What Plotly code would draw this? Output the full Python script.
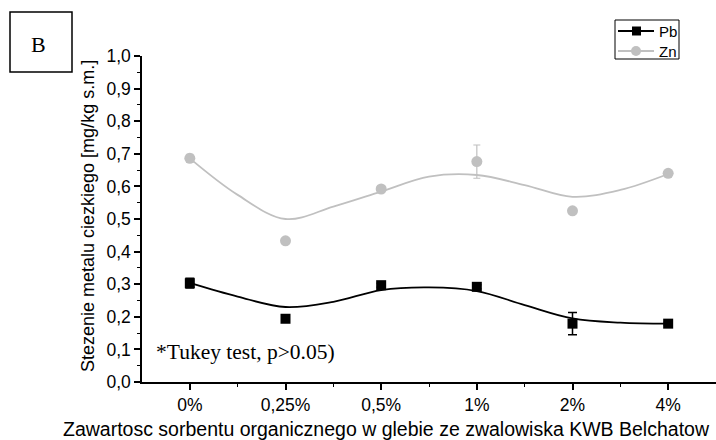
import plotly.graph_objects as go

categories = ["0%", "0,25%", "0,5%", "1%", "2%", "4%"]
x_idx = [0, 1, 2, 3, 4, 5]

pb_values = [0.303, 0.194, 0.297, 0.292, 0.179, 0.179]
pb_errors = [0.015, 0.006, 0.006, 0.006, 0.034, 0.004]
zn_values = [0.686, 0.433, 0.592, 0.676, 0.525, 0.640]
zn_errors = [0.012, 0.004, 0.005, 0.051, 0.004, 0.004]

# fitted curves (at half-category steps)
curve_x = [0, 0.5, 1, 1.5, 2, 2.5, 3, 3.5, 4, 4.5, 5]
pb_curve = [0.304, 0.262, 0.230, 0.246, 0.282, 0.290, 0.279, 0.236, 0.195, 0.182, 0.179]
zn_curve = [0.686, 0.574, 0.500, 0.538, 0.584, 0.630, 0.635, 0.604, 0.568, 0.589, 0.638]

series_names = ["Pb", "Zn"]
PB_COLOR = "#000000"
ZN_COLOR = "#c0c0c0"

# plot-area geometry in pixels (for paper-coordinate helpers)
L, R, T, B = 142, 716, 56, 382
W, H = R - L, B - T


def px(x):
    return (x - L) / W


def py(y):
    return (B - y) / H


SANS = "Liberation Sans, Arial, sans-serif"
SERIF = "Liberation Serif, Times New Roman, serif"

fig = go.Figure()

fig.add_trace(go.Scatter(x=curve_x, y=zn_curve, mode="lines",
                         line=dict(color=ZN_COLOR, width=1.8, shape="spline", smoothing=1.0),
                         showlegend=False, hoverinfo="skip"))
fig.add_trace(go.Scatter(x=curve_x, y=pb_curve, mode="lines",
                         line=dict(color=PB_COLOR, width=1.8, shape="spline", smoothing=1.0),
                         showlegend=False, hoverinfo="skip"))

fig.add_trace(go.Scatter(x=x_idx, y=zn_values, mode="markers", name=series_names[1],
                         marker=dict(symbol="circle", size=11, color=ZN_COLOR),
                         error_y=dict(type="data", array=zn_errors, color=ZN_COLOR, thickness=1.2, width=3.5),
                         showlegend=False))
fig.add_trace(go.Scatter(x=x_idx, y=pb_values, mode="markers", name=series_names[0],
                         marker=dict(symbol="square", size=10, color=PB_COLOR),
                         error_y=dict(type="data", array=pb_errors, color=PB_COLOR, thickness=1.5, width=4.5),
                         showlegend=False))

fig.update_layout(
    width=716, height=440,
    margin=dict(l=L, r=716 - R, t=T, b=440 - B),
    paper_bgcolor="white", plot_bgcolor="white",
    font=dict(family=SANS, size=17, color="black"),
    showlegend=False,
    xaxis=dict(range=[-0.5, 5.5], tickmode="array", tickvals=x_idx, ticktext=categories,
               showgrid=False, zeroline=False, showline=True, linecolor="black", linewidth=1.5,
               ticks="outside", ticklen=6, tickwidth=1.5, tickcolor="black",
               tickfont=dict(size=17.5, family=SANS, color="black"),
               minor=dict(tickvals=[0.5, 1.5, 2.5, 3.5, 4.5], ticks="outside", ticklen=3,
                          tickwidth=1.2, tickcolor="black", showgrid=False)),
    yaxis=dict(range=[0, 1.0], tickmode="linear", tick0=0, dtick=0.1, tickformat=".1f",
               showgrid=False, zeroline=False, showline=True, linecolor="black", linewidth=1.5,
               ticks="outside", ticklen=6, tickwidth=1.5, tickcolor="black",
               tickfont=dict(size=17.5, family=SANS, color="black"),
               minor=dict(dtick=0.05, ticks="outside", ticklen=3, tickwidth=1.2,
                          tickcolor="black", showgrid=False)),
    separators=", ",
)

# axis titles
fig.add_annotation(xref="paper", yref="paper", x=px(386), y=py(429), xanchor="center", yanchor="middle",
                   text="Zawartosc sorbentu organicznego w glebie ze zwalowiska KWB Belchatow",
                   showarrow=False, font=dict(family=SANS, size=19.5, color="black"))
fig.add_annotation(xref="paper", yref="paper", x=px(88), y=py(216), xanchor="center", yanchor="middle",
                   text="Stezenie metalu ciezkiego [mg/kg s.m.]", textangle=-90,
                   showarrow=False, font=dict(family=SANS, size=18, color="black"))

# panel label box
fig.add_shape(type="rect", xref="paper", yref="paper",
              x0=px(10), x1=px(72), y0=py(72), y1=py(12),
              line=dict(color="black", width=1.5), fillcolor="white")
fig.add_annotation(xref="paper", yref="paper", x=px(38), y=py(44), xanchor="center", yanchor="middle",
                   text="B", showarrow=False, font=dict(family=SERIF, size=22, color="black"))

fig.add_annotation(xref="paper", yref="paper", x=px(154), y=py(352),
                   xanchor="left", yanchor="middle", text="*Tukey test, p>0.05)", showarrow=False,
                   font=dict(family=SERIF, size=21.5, color="black"))

# legend (drawn manually to match the compact original box)
fig.add_shape(type="rect", xref="paper", yref="paper",
              x0=px(615), x1=px(679), y0=py(59), y1=py(20),
              line=dict(color="black", width=1), fillcolor="white")
legend_rows = [(series_names[0], PB_COLOR, "square", 31), (series_names[1], ZN_COLOR, "circle", 51)]
for name, color, sym, yrow in legend_rows:
    fig.add_shape(type="line", xref="paper", yref="paper",
                  x0=px(618), x1=px(654), y0=py(yrow), y1=py(yrow),
                  line=dict(color=color, width=1.8))
    if sym == "square":
        fig.add_shape(type="rect", xref="paper", yref="paper",
                      x0=px(632), x1=px(641), y0=py(yrow + 4.5), y1=py(yrow - 4.5),
                      line=dict(color=color, width=0), fillcolor=color)
    else:
        fig.add_shape(type="circle", xref="paper", yref="paper",
                      x0=px(631), x1=px(641), y0=py(yrow + 5), y1=py(yrow - 5),
                      line=dict(color=color, width=0), fillcolor=color)
    fig.add_annotation(xref="paper", yref="paper", x=px(657), y=py(yrow),
                       xanchor="left", yanchor="middle", text=name, showarrow=False,
                       font=dict(family=SANS, size=15, color="black"))

fig.write_html("out.html")
